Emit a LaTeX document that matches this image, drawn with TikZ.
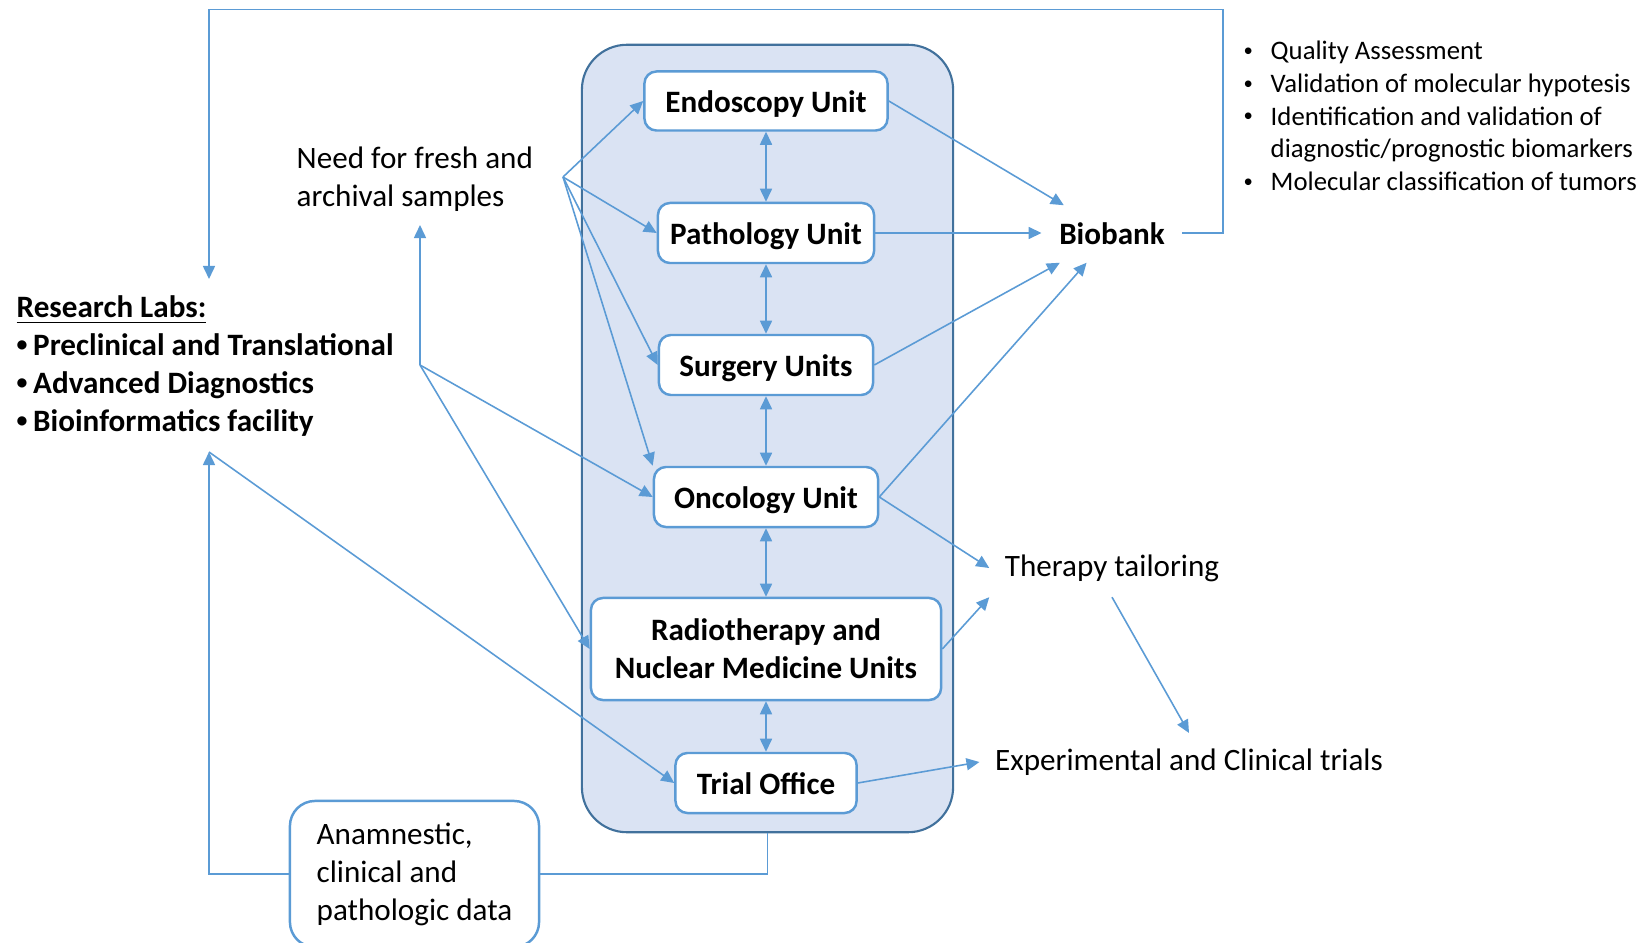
\documentclass[tikz,border=0pt]{standalone}
\usepackage{fontspec}
\setmainfont{Carlito}
\usetikzlibrary{arrows.meta,calc}
\definecolor{lineblue}{RGB}{91,155,213}
\definecolor{hubfill}{RGB}{218,227,243}
\definecolor{hubline}{RGB}{65,113,156}
\newcommand{\smallbul}{\raisebox{0.12em}{\scalebox{0.7}{•}}}

\begin{document}
\begin{tikzpicture}[x=0.01cm,y=-0.01cm,
  unit/.style={draw=lineblue,line width=0.7pt,fill=white,rounded corners=0.12cm,inner sep=0pt,
    font=\bfseries\fontsize{8.85}{10.8}\selectfont,align=center},
  oneline/.style={text height=0.86em,text depth=0.2em},
  txt/.style={font=\fontsize{8.85}{10.8}\selectfont,align=left},
  arr/.style={draw=lineblue,line width=0.45pt,-{Triangle[length=0.13cm,width=0.12cm]}},
  dbl/.style={arr,{Triangle[length=0.13cm,width=0.12cm]}-{Triangle[length=0.13cm,width=0.12cm]}}]
\useasboundingbox (0,0) rectangle (1649,943);
\clip (0,0) rectangle (1649,943);
% central block with the units
\node[draw=hubline,fill=hubfill,line width=0.6pt,rounded corners=0.45cm,
  minimum width=3.71cm,minimum height=7.87cm] (hub) at (767.5,438.5) {};
\node[unit,oneline,minimum width=2.43cm,minimum height=0.59cm] (endo) at (766,101) {Endoscopy Unit};
\node[unit,oneline,minimum width=2.16cm,minimum height=0.6cm] (path) at (766,233) {Pathology Unit};
\node[unit,oneline,minimum width=2.14cm,minimum height=0.6cm] (surg) at (766,365) {Surgery Units};
\node[unit,oneline,minimum width=2.24cm,minimum height=0.6cm] (onco) at (766,497) {Oncology Unit};
\node[unit,minimum width=3.5cm,minimum height=1.02cm] (radio) at (766,649) {Radiotherapy and\\Nuclear Medicine Units};
\node[unit,oneline,minimum width=1.81cm,minimum height=0.6cm] (trial) at (766,783) {Trial Office};
% texts round it
\node[font=\bfseries\fontsize{8.85}{10.8}\selectfont,inner sep=0.17cm] (bio) at (1112,234) {Biobank};
\node[txt,inner sep=0.15cm] (ther) at (1112,568) {Therapy tailoring};
\node[txt,inner sep=0.15cm] (exp) at (1189,762) {Experimental and Clinical trials};
\node[txt,anchor=west,inner xsep=0pt,inner ysep=0.13cm] (need) at (296,179) {Need for fresh and\\archival samples};
\node[txt,font=\bfseries\fontsize{8.85}{10.8}\selectfont,anchor=west,inner sep=0pt] (labs) at (16,366)
  {\underline{Research Labs:}\\\makebox[0.165cm][l]{\smallbul}Preclinical and Translational\\
   \makebox[0.165cm][l]{\smallbul}Advanced Diagnostics\\\makebox[0.165cm][l]{\smallbul}Bioinformatics facility};
\node[font=\fontsize{7.6}{9.27}\selectfont,align=left,anchor=west,inner sep=0pt] (aims) at (1243,116)
  {\makebox[0.27cm][l]{\smallbul}Quality Assessment\\
   \makebox[0.27cm][l]{\smallbul}Validation of molecular hypotesis\\
   \makebox[0.27cm][l]{\smallbul}Identification and validation of\\
   \hspace*{0.27cm}diagnostic/prognostic biomarkers\\
   \makebox[0.27cm][l]{\smallbul}Molecular classification of tumors};
\node[txt,draw=lineblue,line width=0.7pt,fill=white,rounded corners=0.25cm,
  minimum width=2.49cm,minimum height=1.46cm] (anam) at (414.5,874) {Anamnestic,\\clinical and\\pathologic data};
\coordinate (fan) at (563,177);
\coordinate (junc) at (420,365);
\coordinate (labtop) at (209,279);
\coordinate (labbot) at (209,452);
% links between the units
\foreach \a/\b in {endo/path,path/surg,surg/onco,onco/radio,radio/trial}
  \draw[dbl] (\a) -- (\b);
% samples
\foreach \t in {endo.west,path.west,surg.west,onco.north west}
  \draw[arr] (fan) -- (\t);
\draw[arr] (junc) -- (need.south -| junc);
\draw[arr] (junc) -- (onco.west);
\draw[arr] (junc) -- (radio.west);
% to the biobank
\draw[arr] (endo.east) -- (bio);
\draw[arr] (path.east) -- (bio.west |- path.east);
\draw[arr] (surg.east) -- (bio);
\draw[arr] (onco.east) -- (bio);
\draw[arr] (bio.east |- path.east) -| (1223,9.5) -| (labtop);
% therapy and trials
\draw[arr] (onco.east) -- (ther.west);
\draw[arr] (radio.east) -- (ther.south west);
\draw[arr] (ther.south) -- (exp.north);
\draw[arr] (trial.east) -- (exp.west);
% data back to the labs
\draw[lineblue,line width=0.45pt] (hub.south) |- (anam.east);
\draw[arr] (anam.west) -| (labbot);
\draw[arr] (labbot) -- (trial.west);
\end{tikzpicture}
\end{document}
